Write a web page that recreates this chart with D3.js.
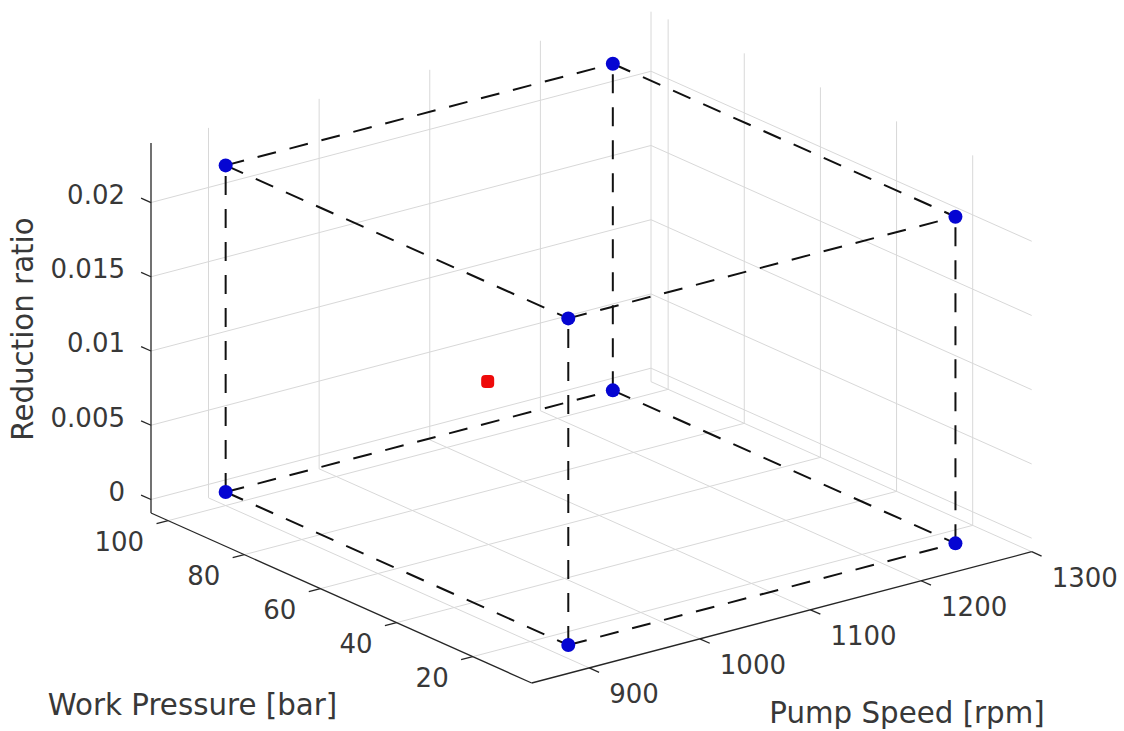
<!DOCTYPE html>
<html>
<head>
<meta charset="utf-8">
<script src="https://cdn.jsdelivr.net/npm/d3@7"></script>
<style>
  body { margin: 0; background: #ffffff; }
  text { font-family: "DejaVu Sans", sans-serif; fill: #383838; }
</style>
</head>
<body>
<svg id="chart" width="1124" height="731"></svg>
<script>
// Two-level design: pump speed x work pressure x reduction ratio corners
const pumpSpeed      = [900, 900, 1250, 1250, 900, 900, 1250, 1250];
const workPressure   = [100, 10, 100, 10, 100, 10, 100, 10];
const reductionRatio = [0, 0, 0, 0, 0.022, 0.022, 0.022, 0.022];

// Single extra run shown in red
const centreSpeed    = [982];
const centrePressure = [55];
const centreRatio    = [0.011];

// Axis ticks and limits
const speedTicks      = [900, 1000, 1100, 1200, 1300];
const speedTickLabels = ["900", "1000", "1100", "1200", "1300"];
const pressureTicks      = [20, 40, 60, 80, 100];
const pressureTickLabels = ["20", "40", "60", "80", "100"];
const ratioTicks      = [0, 0.005, 0.01, 0.015, 0.02];
const ratioTickLabels = ["0", "0.005", "0.01", "0.015", "0.02"];
const speedLimits    = [848, 1300];
const pressureLimits = [4.5, 104.5];
const ratioLimits    = [-0.00091, 0.02401];

// ---- oblique 3-D projection of the axes box ----
const origin    = [531.7, 683];     // screen point of (min speed, min pressure, min ratio)
const uSpeed    = [500, -131.3];    // screen vector spanning the speed range
const uPressure = [-380.7, -170];   // screen vector spanning the pressure range
const uRatio    = [0, -370];        // screen vector spanning the ratio range

const sx = d3.scaleLinear().domain(speedLimits).range([0, 1]);
const sy = d3.scaleLinear().domain(pressureLimits).range([0, 1]);
const sz = d3.scaleLinear().domain(ratioLimits).range([0, 1]);

function project(x, y, z) {
  const a = sx(x), b = sy(y), c = sz(z);
  return [
    origin[0] + a * uSpeed[0] + b * uPressure[0] + c * uRatio[0],
    origin[1] + a * uSpeed[1] + b * uPressure[1] + c * uRatio[1]
  ];
}

const svg = d3.select("#chart");
const [xMin, xMax] = speedLimits;
const [yMin, yMax] = pressureLimits;
const [zMin, zMax] = ratioLimits;

function seg(g, p, q) {
  g.append("line")
    .attr("x1", p[0]).attr("y1", p[1])
    .attr("x2", q[0]).attr("y2", q[1]);
}

// ---- grid on floor and the two back walls ----
const grid = svg.append("g")
  .attr("stroke", "#d8d8d8").attr("stroke-width", 1).attr("fill", "none");
speedTicks.forEach(t => {
  seg(grid, project(t, yMin, zMin), project(t, yMax, zMin));
  seg(grid, project(t, yMax, zMin), project(t, yMax, zMax));
});
pressureTicks.forEach(t => {
  seg(grid, project(xMin, t, zMin), project(xMax, t, zMin));
  seg(grid, project(xMax, t, zMin), project(xMax, t, zMax));
});
ratioTicks.forEach(t => {
  seg(grid, project(xMin, yMax, t), project(xMax, yMax, t));
  seg(grid, project(xMax, yMin, t), project(xMax, yMax, t));
});

// ---- axis lines and ticks ----
const axes = svg.append("g").attr("stroke", "#262626").attr("stroke-width", 1.3);
seg(axes, project(xMin, yMax, zMin), project(xMin, yMax, zMax));
seg(axes, project(xMin, yMin, zMin), project(xMin, yMax, zMin));
seg(axes, project(xMin, yMin, zMin), project(xMax, yMin, zMin));

const tickFont = 26;
const tickLabels = svg.append("g").style("font-size", tickFont + "px");

ratioTicks.forEach((t, i) => {
  const p = project(xMin, yMax, t);
  seg(axes, p, project(xMin, yMax + 2.6, t));
  tickLabels.append("text")
    .attr("x", p[0] - 26).attr("y", p[1] - 8)
    .attr("dy", "0.36em").attr("text-anchor", "end")
    .text(ratioTickLabels[i]);
});
pressureTicks.forEach((t, i) => {
  const p = project(xMin, t, zMin);
  seg(axes, p, project(xMin - 10.5, t, zMin));
  tickLabels.append("text")
    .attr("x", p[0] - 24).attr("y", p[1] + 21)
    .attr("dy", "0.36em").attr("text-anchor", "end")
    .text(pressureTickLabels[i]);
});
speedTicks.forEach((t, i) => {
  const p = project(t, yMin, zMin);
  seg(axes, p, project(t, yMin - 2.6, zMin));
  tickLabels.append("text")
    .attr("x", p[0] + 20).attr("y", p[1] + 26)
    .attr("dy", "0.36em").attr("text-anchor", "start")
    .text(speedTickLabels[i]);
});

// ---- axis titles ----
const titleFont = 29.3;
svg.append("text")
  .attr("transform", "translate(33,329) rotate(-90)")
  .attr("text-anchor", "middle").style("font-size", titleFont + "px")
  .text("Reduction ratio");
svg.append("text")
  .attr("x", 192.5).attr("y", 715)
  .attr("text-anchor", "middle").style("font-size", titleFont + "px")
  .text("Work Pressure [bar]");
svg.append("text")
  .attr("x", 907).attr("y", 723)
  .attr("text-anchor", "middle").style("font-size", titleFont + "px")
  .text("Pump Speed [rpm]");

// ---- dashed edges joining runs that differ in one factor only ----
const n = pumpSpeed.length;
const edges = [];
for (let i = 0; i < n; i++) {
  for (let j = i + 1; j < n; j++) {
    const diff = (pumpSpeed[i] !== pumpSpeed[j]) + (workPressure[i] !== workPressure[j]) +
                 (reductionRatio[i] !== reductionRatio[j]);
    if (diff === 1) edges.push([i, j]);
  }
}
const pt = i => project(pumpSpeed[i], workPressure[i], reductionRatio[i]);
svg.append("g")
  .selectAll("line").data(edges).join("line")
  .attr("x1", d => pt(d[0])[0]).attr("y1", d => pt(d[0])[1])
  .attr("x2", d => pt(d[1])[0]).attr("y2", d => pt(d[1])[1])
  .attr("stroke", "#111111").attr("stroke-width", 2)
  .attr("stroke-dasharray", "19,14");

// ---- markers ----
svg.append("g")
  .selectAll("circle").data(d3.range(n)).join("circle")
  .attr("cx", i => pt(i)[0]).attr("cy", i => pt(i)[1])
  .attr("r", 7).attr("fill", "#0505d2");

svg.append("g")
  .selectAll("rect").data(d3.range(centreSpeed.length)).join("rect")
  .attr("x", i => project(centreSpeed[i], centrePressure[i], centreRatio[i])[0] - 6.5)
  .attr("y", i => project(centreSpeed[i], centrePressure[i], centreRatio[i])[1] - 6.5)
  .attr("width", 13).attr("height", 13).attr("rx", 4)
  .attr("fill", "#ee0a0a");
</script>
</body>
</html>
